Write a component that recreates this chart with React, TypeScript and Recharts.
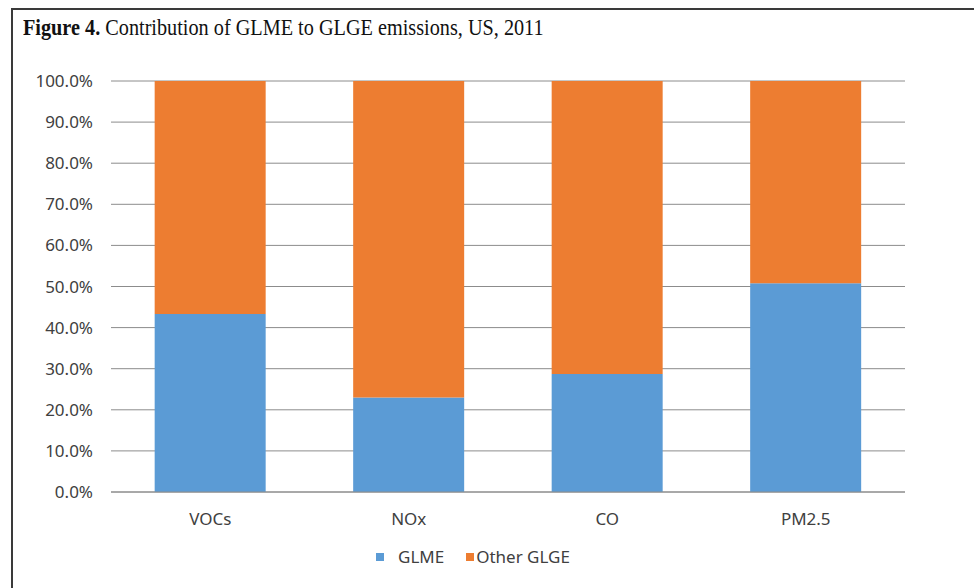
import React from 'react';
import { BarChart, Bar, XAxis, YAxis, CartesianGrid, Legend } from 'recharts';

const pollutants = ['VOCs', 'NOx', 'CO', 'PM2.5'];
const glme = [43.3, 23.0, 28.7, 50.8];
const otherGlge = [56.7, 77.0, 71.3, 49.2];
const yTicks = [0, 10, 20, 30, 40, 50, 60, 70, 80, 90, 100];

const rows = pollutants.map((name, i) => ({
    name,
    glme: glme[i],
    other: otherGlge[i],
}));

const BLUE = '#5B9BD5';
const ORANGE = '#ED7D31';
const labelFont = { fill: '#404040', fontSize: 17, fontFamily: '"Noto Sans", sans-serif' };

function LegendContent() {
    const items = [
        { label: 'GLME', color: BLUE },
        { label: 'Other GLGE', color: ORANGE },
    ];
    return (
        <div style={{ display: 'flex', alignItems: 'center', fontFamily: '"Noto Sans", sans-serif', fontSize: 17, color: '#404040' }}>
            {items.map((it, i) => (
                <div key={it.label} style={{ display: 'flex', alignItems: 'center', marginRight: i === 0 ? 22 : 0 }}>
                    <span style={{ width: 8, height: 8, background: it.color, display: 'inline-block', marginRight: i === 0 ? 14 : 2 }} />
                    <span>{it.label}</span>
                </div>
            ))}
        </div>
    );
}

export default function App() {
    return (
        <div style={{ position: 'absolute', left: 0, top: 0, width: 974, height: 588, background: '#fff', overflow: 'hidden' }}>
            <div style={{ position: 'absolute', left: 11, top: 8, width: 1000, height: 1000, borderTop: '2px solid #3a3a3a', borderLeft: '2px solid #3a3a3a' }} />
            <div style={{ position: 'absolute', left: 23, top: 15, fontFamily: '"Liberation Serif", "Times New Roman", serif', fontSize: 23, color: '#111', whiteSpace: 'nowrap', transform: 'scaleX(0.88)', transformOrigin: 'left top' }}>
                <b>Figure 4.</b> Contribution of GLME to GLGE emissions, US, 2011
            </div>
            <div style={{ position: 'absolute', left: 0, top: 0 }}>
                <BarChart
                    width={974}
                    height={588}
                    data={rows}
                    margin={{ top: 81, right: 69, left: 0, bottom: 66 }}
                    barCategoryGap="22%"
                >
                    <CartesianGrid vertical={false} stroke="#8c8c8c" strokeWidth={1} />
                    <XAxis
                        dataKey="name"
                        height={30}
                        axisLine={{ stroke: '#8c8c8c' }}
                        tickLine={false}
                        tickSize={0}
                        tickMargin={21}
                        tick={labelFont}
                    />
                    <YAxis
                        width={111}
                        domain={[0, 100]}
                        ticks={yTicks}
                        axisLine={false}
                        tickLine={false}
                        tickSize={0}
                        tickMargin={18}
                        tick={labelFont}
                        tickFormatter={(v: number) => v.toFixed(1) + '%'}
                    />
                    <Legend
                        layout="horizontal"
                        verticalAlign="middle"
                        align="center"
                        content={<LegendContent />}
                        wrapperStyle={{ position: 'absolute', top: 545, left: 376, width: 'auto' }}
                    />
                    <Bar dataKey="glme" name="GLME" stackId="a" fill={BLUE} isAnimationActive={false} />
                    <Bar dataKey="other" name="Other GLGE" stackId="a" fill={ORANGE} isAnimationActive={false} />
                </BarChart>
            </div>
        </div>
    );
}
